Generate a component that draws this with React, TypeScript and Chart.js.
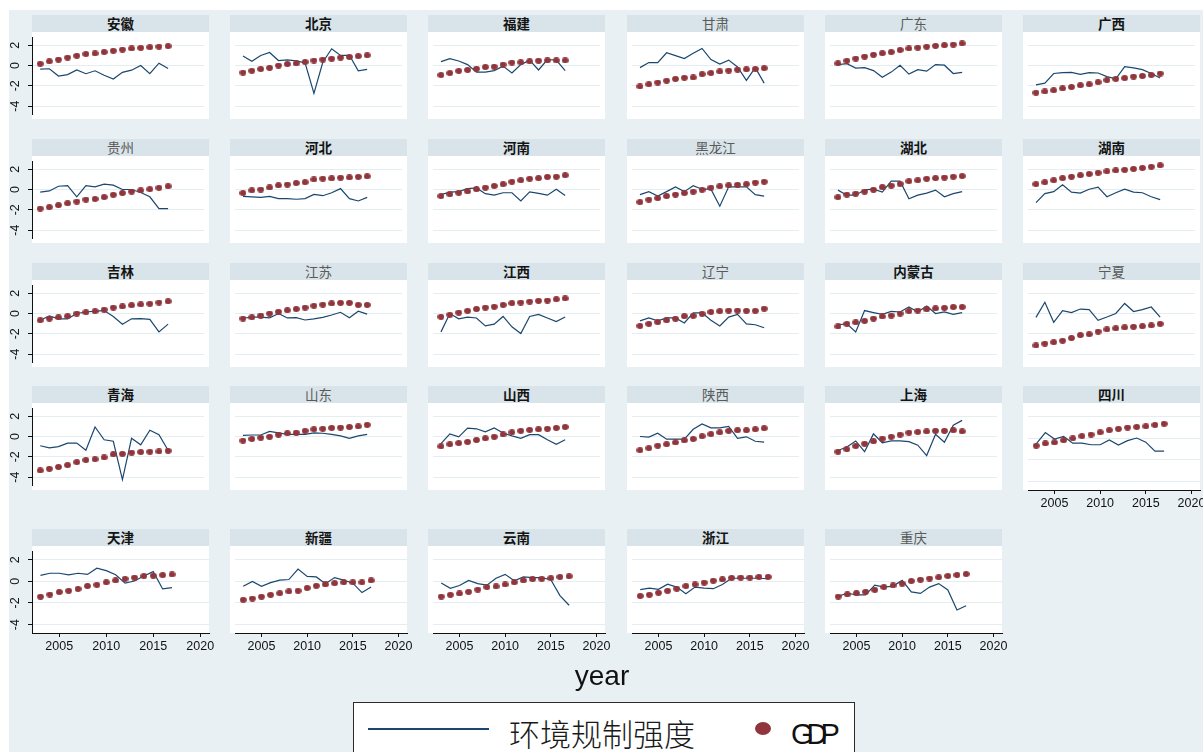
import React, { useEffect, useRef } from "react";
import { Chart, registerables } from "chart.js";

Chart.register(...registerables);

// ---- data ----
const years = [2003, 2004, 2005, 2006, 2007, 2008, 2009, 2010, 2011, 2012, 2013, 2014, 2015, 2016, 2017];
const xTickValues = [2005, 2010, 2015, 2020];
const yTickValues = [-4, -2, 0, 2];

const provinces = [
  "安徽", "北京", "福建", "甘肃", "广东", "广西",
  "贵州", "河北", "河南", "黑龙江", "湖北", "湖南",
  "吉林", "江苏", "江西", "辽宁", "内蒙古", "宁夏",
  "青海", "山东", "山西", "陕西", "上海", "四川",
  "天津", "新疆", "云南", "浙江", "重庆",
];

// 环境规制强度, one row per province (same order as provinces)
const envRegulation: number[][] = [
  [-0.35, -0.32, -1.04, -0.9, -0.43, -0.81, -0.52, -0.96, -1.33, -0.67, -0.46, 0, -0.81, 0.23, -0.29],
  [0.93, 0.41, 0.99, 1.28, 0.49, 0.55, 0.46, 0.26, -2.75, 0.32, 1.65, 0.99, 1.01, -0.52, -0.38],
  [0.38, 0.68, 0.44, 0.09, -0.65, -0.65, -0.5, -0.06, -0.74, 0.09, 0.53, -0.44, 0.59, 0.53, -0.5],
  [-0.21, 0.29, 0.29, 1.26, 0.97, 0.68, 1.21, 1.68, 0.59, 0.15, 0.53, -0.15, -1.47, -0.21, -1.74],
  [0.09, 0.18, -0.26, -0.21, -0.5, -1.15, -0.65, 0.03, -0.85, -0.41, -0.56, 0.09, 0.03, -0.79, -0.68],
  [-1.91, -1.74, -0.79, -0.71, -0.68, -0.88, -0.71, -0.74, -1.09, -1.32, -0.12, -0.24, -0.41, -0.79, -1.24],
  [-0.26, -0.14, 0.32, 0.38, -0.72, 0.38, 0.26, 0.52, 0.43, 0.0, 0.0, -0.29, -0.72, -1.88, -1.88],
  [-0.67, -0.72, -0.78, -0.67, -0.9, -0.9, -0.96, -0.9, -0.49, -0.61, -0.32, 0.09, -0.9, -1.13, -0.78],
  [-0.5, -0.26, -0.21, 0.09, 0.15, -0.41, -0.56, -0.32, -0.32, -1.12, -0.24, -0.38, -0.56, 0.03, -0.59],
  [-0.5, -0.21, -0.65, -0.21, 0.26, -0.21, 0.38, 0.03, 0.03, -1.65, 0.26, 0.26, 0.26, -0.5, -0.65],
  [-0.06, -0.56, -0.56, -0.03, 0.03, -0.26, 0.82, 0.82, -0.91, -0.56, -0.35, -0.06, -0.71, -0.41, -0.21],
  [-1.29, -0.41, -0.21, 0.47, -0.26, -0.35, 0.03, 0.24, -0.71, -0.32, 0.03, -0.26, -0.32, -0.71, -1.0],
  [-0.67, -0.23, -0.52, -0.52, 0, 0.15, 0.23, 0.29, -0.29, -1.05, -0.52, -0.5, -0.58, -1.81, -1.05],
  [-0.47, -0.35, -0.35, -0.44, 0, -0.44, -0.41, -0.64, -0.52, -0.38, -0.15, 0.12, -0.41, 0.23, -0.06],
  [-1.81, 0, -0.52, -0.35, -0.44, -1.22, -1.05, -0.29, -1.31, -1.98, -0.29, -0.09, -0.44, -0.79, -0.35],
  [-0.73, -0.44, -0.73, -0.44, -0.44, -0.93, 0.06, 0.06, -0.67, -1.22, -0.35, -0.09, -1.02, -1.11, -1.4],
  [-1.11, -1.02, -1.81, 0.29, 0.09, -0.09, 0.2, 0.15, 0.64, 0.15, 0.73, 0, 0.15, -0.09, 0.09],
  [-0.38, 1.11, -0.87, 0.29, 0.09, 0.44, 0.38, -0.67, -0.35, 0, 0.99, 0.2, 0.38, 0.64, -0.35],
  [-0.91, -1.12, -1.0, -0.65, -0.65, -1.35, 0.94, -0.32, -0.47, -4.24, -0.18, -0.82, 0.62, 0.18, -1.35],
  [0.12, 0.15, 0.15, 0.5, 0.35, 0.21, 0.21, 0.21, 0.35, 0.32, 0.21, 0.06, -0.18, 0.06, 0.21],
  [-0.71, 0.26, -0.03, 0.82, 0.76, 0.47, 0.85, 0.35, 0.06, -0.18, 0.18, 0.18, -0.32, -0.76, -0.32],
  [0, -0.06, 0.32, -0.26, -0.26, -0.26, 0.71, 1.24, 0.85, 0.85, 1.0, -0.18, -0.03, -0.47, -0.56],
  [-1.38, -1.03, -0.44, -1.5, 0.26, -0.62, -0.44, -0.44, -0.5, -0.85, -1.88, 0.21, -0.56, 1.12, 1.59],
  [-0.5, 0.53, -0.06, 0.18, -0.44, -0.44, -0.59, -0.59, -0.15, -0.62, -0.21, 0.03, -0.35, -1.18, -1.18],
  [0.55, 0.75, 0.75, 0.61, 0.75, 0.64, 1.22, 0.99, 0.61, -0.17, 0.03, 0.49, 0.9, -0.7, -0.58],
  [-0.46, 0, -0.46, -0.12, 0.12, 0.17, 1.13, 0.46, 0.41, -0.23, 0.35, 0.12, -0.17, -1.04, -0.52],
  [-0.15, -0.65, -0.38, 0.09, -0.21, -0.35, 0.29, 0.65, 0.06, 0.41, 0.35, 0.35, 0.15, -1.32, -2.21],
  [-0.76, -0.62, -0.74, -0.26, -0.53, -1.15, -0.53, -0.62, -0.68, -0.29, 0.29, 0.29, 0.29, 0.29, 0.24],
  [-1.38, -1.09, -1.26, -1.26, -0.35, -0.53, -0.44, 0.09, -0.97, -1.12, -0.53, -0.21, -0.79, -2.65, -2.26],
];

// GDP, one row per province (same order as provinces)
const gdp: number[][] = [
  [0.17, 0.41, 0.58, 0.78, 0.96, 1.13, 1.19, 1.33, 1.45, 1.57, 1.68, 1.74, 1.8, 1.86, 1.91],
  [-0.7, -0.52, -0.35, -0.23, 0, 0.14, 0.2, 0.35, 0.49, 0.58, 0.67, 0.78, 0.84, 0.93, 1.01],
  [-0.94, -0.74, -0.53, -0.44, -0.32, -0.15, -0.12, 0.09, 0.29, 0.32, 0.41, 0.47, 0.5, 0.5, 0.5],
  [-2.06, -1.85, -1.68, -1.5, -1.32, -1.21, -1.18, -0.85, -0.74, -0.59, -0.5, -0.41, -0.38, -0.35, -0.26],
  [0.21, 0.47, 0.68, 0.88, 1.06, 1.21, 1.32, 1.53, 1.68, 1.76, 1.85, 1.94, 2.0, 2.06, 2.18],
  [-2.68, -2.56, -2.44, -2.26, -2.12, -1.94, -1.85, -1.65, -1.44, -1.32, -1.24, -1.09, -1.03, -0.94, -0.79],
  [-1.88, -1.74, -1.54, -1.36, -1.19, -0.99, -0.93, -0.75, -0.52, -0.35, -0.2, -0.09, 0.03, 0.17, 0.32],
  [-0.35, -0.09, 0, 0.2, 0.41, 0.49, 0.64, 0.72, 0.99, 1.07, 1.1, 1.16, 1.19, 1.25, 1.3],
  [-0.65, -0.47, -0.32, -0.18, 0.03, 0.18, 0.35, 0.53, 0.76, 0.91, 1.06, 1.12, 1.24, 1.26, 1.41],
  [-1.24, -1.0, -0.85, -0.65, -0.5, -0.35, -0.21, -0.03, 0.18, 0.32, 0.41, 0.47, 0.53, 0.68, 0.76],
  [-0.76, -0.5, -0.41, -0.21, -0.03, 0.24, 0.38, 0.56, 0.82, 0.91, 1.06, 1.12, 1.18, 1.26, 1.32],
  [0.53, 0.71, 0.91, 1.12, 1.26, 1.41, 1.53, 1.65, 1.79, 1.88, 1.94, 2.03, 2.12, 2.24, 2.38],
  [-0.67, -0.5, -0.38, -0.26, 0, 0.12, 0.23, 0.38, 0.58, 0.7, 0.82, 0.9, 0.96, 1.08, 1.2],
  [-0.5, -0.38, -0.2, 0, 0.17, 0.32, 0.44, 0.58, 0.76, 0.87, 0.99, 1.05, 1.05, 0.85, 0.85],
  [-0.32, -0.12, 0.09, 0.26, 0.44, 0.58, 0.67, 0.85, 1.02, 1.08, 1.17, 1.25, 1.28, 1.4, 1.49],
  [-1.22, -1.02, -0.85, -0.67, -0.52, -0.26, -0.23, -0.03, 0.15, 0.23, 0.29, 0.29, 0.26, 0.26, 0.47],
  [-1.28, -1.02, -0.87, -0.73, -0.5, -0.29, -0.2, 0, 0.23, 0.29, 0.41, 0.5, 0.55, 0.64, 0.64],
  [-3.15, -2.97, -2.83, -2.68, -2.42, -2.13, -2.04, -1.78, -1.57, -1.46, -1.37, -1.31, -1.25, -1.17, -1.02],
  [-3.35, -3.18, -3.0, -2.82, -2.53, -2.32, -2.24, -2.06, -1.76, -1.71, -1.59, -1.53, -1.5, -1.47, -1.41],
  [-0.41, -0.24, -0.12, -0.03, 0.18, 0.32, 0.38, 0.56, 0.71, 0.76, 0.85, 0.88, 0.94, 1.0, 1.15],
  [-0.97, -0.76, -0.65, -0.53, -0.35, -0.18, -0.03, 0.21, 0.41, 0.56, 0.65, 0.71, 0.76, 0.85, 0.94],
  [-1.35, -1.15, -0.91, -0.76, -0.59, -0.38, -0.24, 0.03, 0.24, 0.41, 0.56, 0.62, 0.62, 0.71, 0.82],
  [-1.5, -1.26, -0.94, -0.71, -0.47, -0.21, -0.03, 0.18, 0.38, 0.44, 0.5, 0.56, 0.56, 0.62, 0.5],
  [-0.68, -0.47, -0.38, -0.18, 0, 0.21, 0.35, 0.56, 0.76, 0.88, 1.0, 1.06, 1.12, 1.24, 1.35],
  [-1.42, -1.22, -0.99, -0.87, -0.7, -0.43, -0.32, -0.09, 0.09, 0.23, 0.35, 0.49, 0.52, 0.58, 0.64],
  [-1.71, -1.59, -1.42, -1.25, -1.1, -0.93, -0.87, -0.61, -0.41, -0.29, -0.17, -0.09, -0.09, -0.09, 0.09],
  [-1.41, -1.24, -1.12, -0.97, -0.76, -0.53, -0.47, -0.29, -0.09, 0.09, 0.21, 0.24, 0.29, 0.41, 0.47],
  [-1.35, -1.24, -1.06, -0.88, -0.68, -0.44, -0.29, -0.12, 0.06, 0.18, 0.32, 0.35, 0.35, 0.41, 0.41],
  [-1.41, -1.21, -1.09, -0.97, -0.79, -0.53, -0.38, -0.21, 0.03, 0.15, 0.26, 0.38, 0.5, 0.59, 0.68],
];

// panel titles drawn in the lighter face
const lightTitles = new Set(["甘肃", "广东", "贵州", "黑龙江", "江苏", "辽宁", "宁夏", "山东", "陕西", "重庆"]);

// ---- style / layout ----
const BG = "#e9f0f3";
const STRIP = "#d8e4e9";
const GRID = "#e4edf0";
const NAVY = "#1a476f";
const MAROON = "#90353b";
const TICK_FONT = "'Liberation Sans', Arial, sans-serif";
const CJK_FONT = "'Noto Sans CJK SC', sans-serif";

const COLS = 6;
const rowTop = [15, 139, 263, 386, 529];
const colLeft = (c: number) => Math.round(32 + 198.2 * c);
const HEADER_H = 17;
const PLOT_W = 177;
const PLOT_H = 87;
const Y_AXIS_W = 32;
const X_AXIS_H = 28;
const RIGHT_PAD = 14;
const X_MIN = 2002.1;
const X_MAX = 2020.93;
const Y_MIN = -4.78;
const Y_MAX = 2.81;

let dotImage: HTMLCanvasElement | null = null;
function getDot(): HTMLCanvasElement {
  if (dotImage) return dotImage;
  const cv = document.createElement("canvas");
  cv.width = 7;
  cv.height = 6;
  const ctx = cv.getContext("2d")!;
  ctx.fillStyle = MAROON;
  ctx.beginPath();
  ctx.ellipse(3.5, 3, 3.4, 2.9, 0, 0, Math.PI * 2);
  ctx.fill();
  dotImage = cv;
  return cv;
}

// keep every axis from pushing the plot area in for its label overhang
function zeroPadding(s: any) {
  s.paddingTop = 0;
  s.paddingBottom = 0;
  s.paddingLeft = 0;
  s.paddingRight = 0;
}

function Panel({ index }: { index: number }) {
  const ref = useRef<HTMLCanvasElement>(null);
  const r = Math.floor(index / COLS);
  const c = index % COLS;
  const hasY = c === 0;
  const hasX = r === 4 || (r === 3 && c === 5);
  const plotLeft = colLeft(c);
  const plotTop = rowTop[r] + HEADER_H;
  const canvasLeft = plotLeft - (hasY ? Y_AXIS_W : 0);
  const cw = PLOT_W + (hasY ? Y_AXIS_W : 0) + (hasX ? RIGHT_PAD : 0);
  const ch = PLOT_H + (hasX ? X_AXIS_H : 0);
  const name = provinces[index];
  const light = lightTitles.has(name);

  useEffect(() => {
    const regPts = years.map((yr, i) => ({ x: yr, y: envRegulation[index][i] }));
    const gdpPts = years.map((yr, i) => ({ x: yr, y: gdp[index][i] }));
    const chart = new Chart(ref.current!, {
      type: "scatter",
      data: {
        datasets: [
          {
            label: "GDP",
            data: gdpPts,
            pointStyle: getDot() as any,
            pointRadius: 3.4,
            showLine: false,
            order: 0,
          },
          {
            label: "环境规制强度",
            data: regPts,
            showLine: true,
            borderColor: NAVY,
            borderWidth: 1.2,
            pointRadius: 0,
            tension: 0,
            order: 1,
          },
        ],
      },
      options: {
        animation: false,
        responsive: false,
        maintainAspectRatio: false,
        devicePixelRatio: 1,
        events: [],
        layout: { padding: { left: 0, top: 0, bottom: 0, right: hasX ? RIGHT_PAD : 0 } },
        plugins: { legend: { display: false }, tooltip: { enabled: false }, title: { display: false } },
        scales: {
          x: {
            type: "linear",
            min: X_MIN,
            max: X_MAX,
            afterBuildTicks: (s: any) => {
              s.ticks = xTickValues.map((v) => ({ value: v }));
            },
            afterFit: (s: any) => {
              s.height = hasX ? X_AXIS_H : 0;
              zeroPadding(s);
            },
            grid: {
              display: hasX,
              drawOnChartArea: false,
              drawTicks: true,
              tickLength: 4,
              tickColor: "#111",
              tickWidth: 1,
            },
            border: { display: hasX, color: "#111", width: 1 },
            ticks: {
              display: hasX,
              padding: 2,
              autoSkip: false,
              maxRotation: 0,
              minRotation: 0,
              color: "#111",
              font: { family: TICK_FONT, size: 12.5 },
              callback: (v: any) => String(v),
            },
          },
          y: {
            type: "linear",
            min: Y_MIN,
            max: Y_MAX,
            afterBuildTicks: (s: any) => {
              s.ticks = yTickValues.map((v) => ({ value: v }));
            },
            afterFit: (s: any) => {
              s.width = hasY ? Y_AXIS_W : 0;
              zeroPadding(s);
            },
            grid: {
              display: true,
              drawOnChartArea: true,
              color: GRID,
              lineWidth: 1,
              drawTicks: hasY,
              tickLength: 4,
              tickColor: "#111",
              tickWidth: 1,
            },
            border: { display: hasY, color: "#111", width: 1 },
            ticks: {
              display: hasY,
              minRotation: 90,
              maxRotation: 90,
              crossAlign: "center",
              padding: 7,
              color: "#111",
              font: { family: TICK_FONT, size: 12.5 },
              callback: (v: any) => String(v),
            },
          },
        },
      } as any,
    });
    return () => chart.destroy();
  }, [index]);

  return (
    <>
      <div
        style={{
          position: "absolute",
          left: plotLeft,
          top: rowTop[r],
          width: PLOT_W,
          height: HEADER_H,
          background: STRIP,
          textAlign: "center",
          lineHeight: HEADER_H + "px",
          fontFamily: CJK_FONT,
          fontSize: 13.5,
          fontWeight: light ? 400 : 700,
          color: light ? "#5a5a5a" : "#141414",
        }}
      >
        {name}
      </div>
      <div
        style={{
          position: "absolute",
          left: plotLeft,
          top: plotTop,
          width: PLOT_W,
          height: PLOT_H,
          background: "#ffffff",
        }}
      />
      <canvas
        ref={ref}
        width={cw}
        height={ch}
        style={{ position: "absolute", left: canvasLeft, top: plotTop, width: cw, height: ch }}
      />
    </>
  );
}

export default function App() {
  return (
    <div
      style={{
        position: "absolute",
        left: 0,
        top: 0,
        width: 1203,
        height: 752,
        overflow: "hidden",
        background: "#ffffff",
      }}
    >
      <div style={{ position: "absolute", left: 9, top: 10, width: 1194, height: 742, background: BG }} />
      {provinces.map((_, i) => (
        <Panel key={i} index={i} />
      ))}
      <div
        style={{
          position: "absolute",
          left: 502,
          width: 200,
          top: 662,
          textAlign: "center",
          fontFamily: TICK_FONT,
          fontSize: 28,
          lineHeight: "28px",
          color: "#111",
        }}
      >
        year
      </div>
      {/* legend */}
      <div
        style={{
          position: "absolute",
          left: 353,
          top: 702,
          width: 500,
          height: 80,
          background: "#ffffff",
          border: "1.5px solid #2b2b2b",
        }}
      />
      <div style={{ position: "absolute", left: 368, top: 727.5, width: 121, height: 2.6, background: NAVY }} />
      <div
        style={{
          position: "absolute",
          left: 509,
          top: 712,
          height: 40,
          display: "flex",
          alignItems: "center",
          fontFamily: CJK_FONT,
          fontSize: 31,
          fontWeight: 300,
          color: "#1a1a1a",
          whiteSpace: "nowrap",
        }}
      >
        环境规制强度
      </div>
      <div
        style={{
          position: "absolute",
          left: 755,
          top: 721.5,
          width: 16,
          height: 13,
          borderRadius: "50%",
          background: MAROON,
        }}
      />
      <div
        style={{
          position: "absolute",
          left: 791,
          top: 719,
          fontFamily: TICK_FONT,
          fontSize: 29,
          lineHeight: "30px",
          letterSpacing: "-7px",
          color: "#111",
          whiteSpace: "nowrap",
        }}
      >
        GDP
      </div>
    </div>
  );
}
